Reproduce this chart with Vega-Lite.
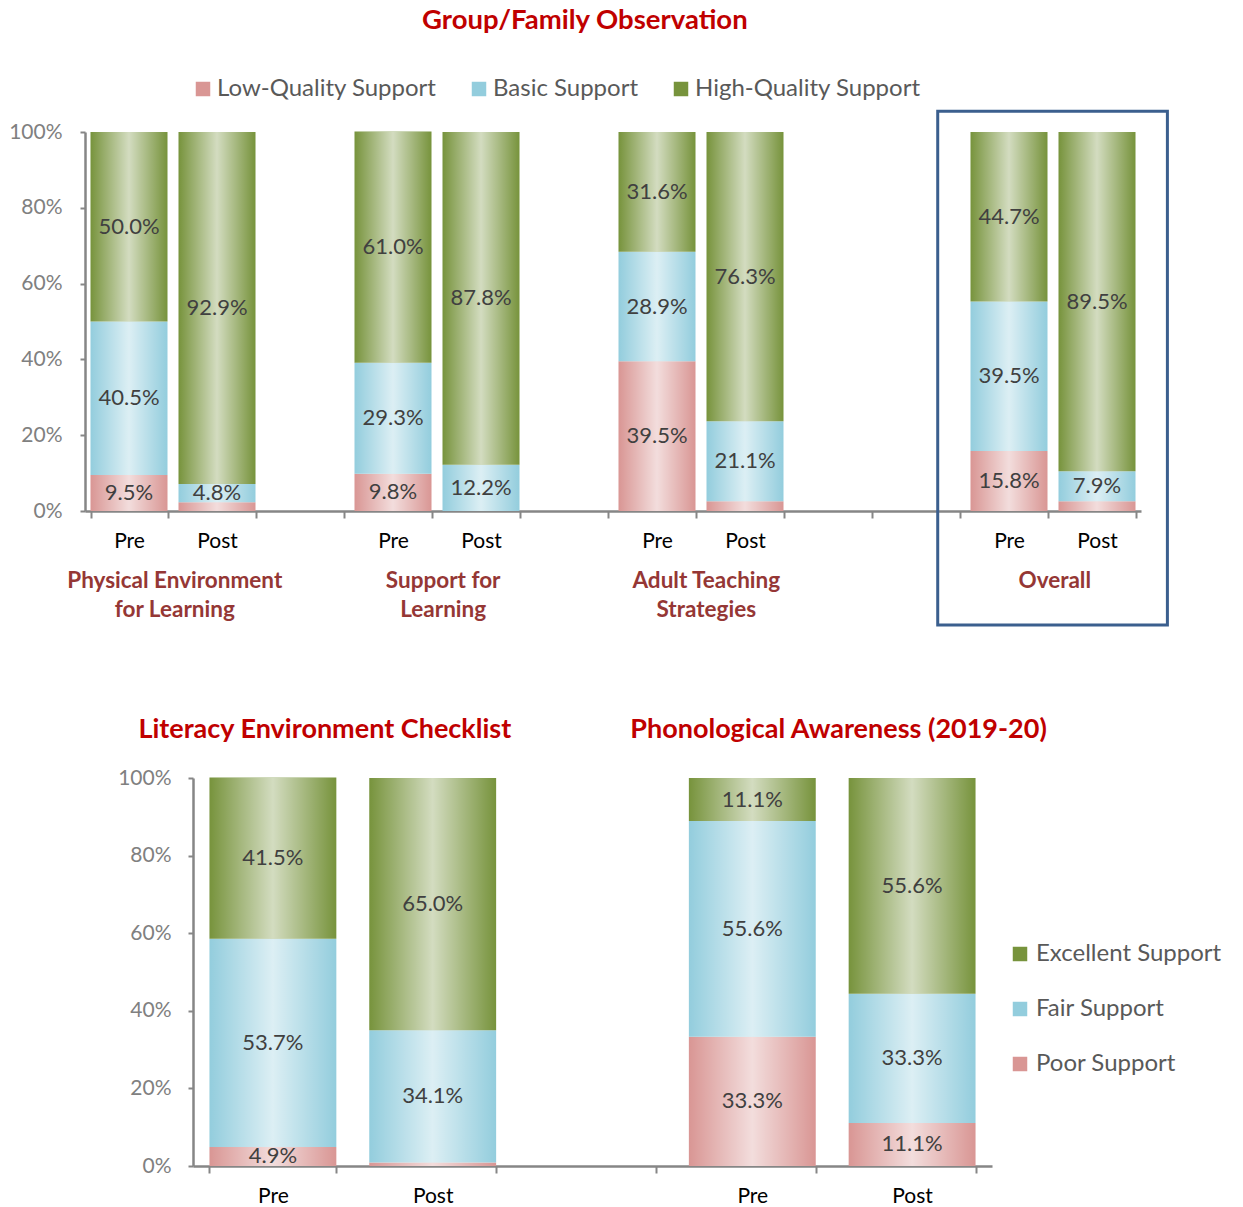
{
  "$schema": "https://vega.github.io/schema/vega-lite/v6.json",
  "background": "white",
  "padding": {"left": 8, "top": 6, "right": 0, "bottom": 0},
  "config": {"view": {"stroke": null}, "font": "Lato"},
  "datasets": {
    "obs": [
      {"slot": "PE Pre", "level": "Low-Quality Support", "rank": 1, "pct": 9.5},
      {"slot": "PE Pre", "level": "Basic Support", "rank": 2, "pct": 40.5},
      {"slot": "PE Pre", "level": "High-Quality Support", "rank": 3, "pct": 50.0},
      {"slot": "PE Post", "level": "Low-Quality Support", "rank": 1, "pct": 2.3},
      {"slot": "PE Post", "level": "Basic Support", "rank": 2, "pct": 4.8},
      {"slot": "PE Post", "level": "High-Quality Support", "rank": 3, "pct": 92.9},
      {"slot": "SL Pre", "level": "Low-Quality Support", "rank": 1, "pct": 9.8},
      {"slot": "SL Pre", "level": "Basic Support", "rank": 2, "pct": 29.3},
      {"slot": "SL Pre", "level": "High-Quality Support", "rank": 3, "pct": 61.0},
      {"slot": "SL Post", "level": "Basic Support", "rank": 2, "pct": 12.2},
      {"slot": "SL Post", "level": "High-Quality Support", "rank": 3, "pct": 87.8},
      {"slot": "AT Pre", "level": "Low-Quality Support", "rank": 1, "pct": 39.5},
      {"slot": "AT Pre", "level": "Basic Support", "rank": 2, "pct": 28.9},
      {"slot": "AT Pre", "level": "High-Quality Support", "rank": 3, "pct": 31.6},
      {"slot": "AT Post", "level": "Low-Quality Support", "rank": 1, "pct": 2.6},
      {"slot": "AT Post", "level": "Basic Support", "rank": 2, "pct": 21.1},
      {"slot": "AT Post", "level": "High-Quality Support", "rank": 3, "pct": 76.3},
      {"slot": "OV Pre", "level": "Low-Quality Support", "rank": 1, "pct": 15.8},
      {"slot": "OV Pre", "level": "Basic Support", "rank": 2, "pct": 39.5},
      {"slot": "OV Pre", "level": "High-Quality Support", "rank": 3, "pct": 44.7},
      {"slot": "OV Post", "level": "Low-Quality Support", "rank": 1, "pct": 2.6},
      {"slot": "OV Post", "level": "Basic Support", "rank": 2, "pct": 7.9},
      {"slot": "OV Post", "level": "High-Quality Support", "rank": 3, "pct": 89.5}
    ],
    "lit": [
      {"slot": "LEC Pre", "rating": "Poor Support", "rank": 1, "pct": 4.9},
      {"slot": "LEC Pre", "rating": "Fair Support", "rank": 2, "pct": 53.7},
      {"slot": "LEC Pre", "rating": "Excellent Support", "rank": 3, "pct": 41.5},
      {"slot": "LEC Post", "rating": "Poor Support", "rank": 1, "pct": 0.9},
      {"slot": "LEC Post", "rating": "Fair Support", "rank": 2, "pct": 34.1},
      {"slot": "LEC Post", "rating": "Excellent Support", "rank": 3, "pct": 65.0},
      {"slot": "PA Pre", "rating": "Poor Support", "rank": 1, "pct": 33.3},
      {"slot": "PA Pre", "rating": "Fair Support", "rank": 2, "pct": 55.6},
      {"slot": "PA Pre", "rating": "Excellent Support", "rank": 3, "pct": 11.1},
      {"slot": "PA Post", "rating": "Poor Support", "rank": 1, "pct": 11.1},
      {"slot": "PA Post", "rating": "Fair Support", "rank": 2, "pct": 33.3},
      {"slot": "PA Post", "rating": "Excellent Support", "rank": 3, "pct": 55.6}
    ]
  },
  "spacing": 89,
  "resolve": {"scale": {"x": "independent", "y": "independent", "color": "independent"}, "legend": {"color": "independent"}},
  "vconcat": [
    {
      "width": 1056,
      "height": 379,
      "resolve": {"scale": {"x": "independent", "y": "independent"}},
      "layer": [
        {
          "data": {"name": "obs"},
          "transform": [
            {"stack": "pct", "groupby": ["slot"], "sort": [{"field": "rank", "order": "ascending"}], "as": ["y0", "y1"]},
            {"calculate": "(datum.y0 + datum.y1) / 2", "as": "ymid"},
            {"calculate": "format(datum.pct, '.1f') + '%'", "as": "label"}
          ],
          "layer": [
            {
              "mark": {"type": "bar", "strokeWidth": 0},
              "encoding": {
                "x": {"field": "slot", "type": "nominal", "sort": null, "title": null,
                  "scale": {"domain": ["PE Pre", "PE Post", "g1", "SL Pre", "SL Post", "g2", "AT Pre", "AT Post", "g3", "g4", "OV Pre", "OV Post"], "paddingInner": 0.125, "paddingOuter": 0.0625},
                  "axis": {"title": null, "labelAngle": 0, "labelExpr": "split(datum.value, ' ')[1] || ''", "tickBand": "extent", "domainColor": "#868686", "domainWidth": 2.5, "tickColor": "#868686", "tickWidth": 2, "tickSize": 7, "labelColor": "#000000", "labelFont": "Lato", "labelFontSize": 21, "labelPadding": 12}},
                "y": {"field": "y0", "type": "quantitative", "title": null, "scale": {"domain": [0, 100], "nice": false},
                  "axis": {"title": null, "values": [0, 20, 40, 60, 80, 100], "labelExpr": "datum.value + '%'", "grid": false, "domainColor": "#868686", "domainWidth": 2.5, "tickColor": "#868686", "tickWidth": 2, "tickSize": 5, "labelColor": "#808080", "labelFont": "Lato", "labelFontSize": 21, "labelPadding": 18}},
                "y2": {"field": "y1"},
                "color": {"field": "level", "type": "nominal",
                  "scale": {"domain": ["Low-Quality Support", "Basic Support", "High-Quality Support"], "range": ["#d99694", "#93cddd", "#77933c"]},
                  "legend": {"orient": "none", "legendX": 106, "legendY": -55, "direction": "horizontal", "title": null, "labelFont": "Lato", "labelFontSize": 24, "labelColor": "#595959", "symbolType": "square", "symbolSize": 210, "symbolStrokeWidth": 0, "columnPadding": 30, "labelOffset": 2, "labelLimit": 400}}
              }
            },
            {
              "mark": {"type": "bar", "strokeWidth": 0, "fill": {"gradient": "linear", "x1": 0, "x2": 1, "y1": 0, "y2": 0, "stops": [{"offset": 0, "color": "rgba(255,255,255,0)"}, {"offset": 0.5, "color": "rgba(255,255,255,0.68)"}, {"offset": 1, "color": "rgba(255,255,255,0)"}]}},
              "encoding": {
                "x": {"field": "slot", "type": "nominal", "sort": null, "title": null},
                "y": {"field": "y0", "type": "quantitative", "title": null},
                "y2": {"field": "y1"}
              }
            },
            {
              "transform": [{"filter": "datum.pct >= 4"}],
              "mark": {"type": "text", "font": "Lato", "fontSize": 22, "color": "#404040", "baseline": "middle", "align": "center"},
              "encoding": {
                "x": {"field": "slot", "type": "nominal", "sort": null, "title": null},
                "y": {"field": "ymid", "type": "quantitative", "title": null},
                "text": {"field": "label"}
              }
            }
          ]
        },
        {
          "data": {"values": [{}]},
          "layer": [
            {
              "mark": {"type": "text", "font": "Lato", "fontWeight": "bold", "fontSize": 27.5, "color": "#c00000", "align": "center", "baseline": "alphabetic"},
              "encoding": {
                "x": {"datum": 5.68, "type": "quantitative", "scale": {"domain": [0, 12], "nice": false, "zero": false}, "axis": null},
                "y": {"datum": 127.2, "type": "quantitative", "scale": {"domain": [0, 100], "nice": false}, "axis": null},
                "text": {"value": "Group/Family Observation"}
              }
            },
            {
              "mark": {"type": "text", "font": "Lato", "fontWeight": "bold", "fontSize": 22.5, "color": "#953735", "align": "center", "baseline": "alphabetic", "lineBreak": "\n", "lineHeight": 29},
              "encoding": {
                "x": {"datum": 1.02, "type": "quantitative"},
                "y": {"datum": -20.3, "type": "quantitative"},
                "text": {"value": "Physical Environment\nfor Learning"}
              }
            },
            {
              "mark": {"type": "text", "font": "Lato", "fontWeight": "bold", "fontSize": 22.5, "color": "#953735", "align": "center", "baseline": "alphabetic", "lineBreak": "\n", "lineHeight": 29},
              "encoding": {
                "x": {"datum": 4.07, "type": "quantitative"},
                "y": {"datum": -20.3, "type": "quantitative"},
                "text": {"value": "Support for\nLearning"}
              }
            },
            {
              "mark": {"type": "text", "font": "Lato", "fontWeight": "bold", "fontSize": 22.5, "color": "#953735", "align": "center", "baseline": "alphabetic", "lineBreak": "\n", "lineHeight": 29},
              "encoding": {
                "x": {"datum": 7.06, "type": "quantitative"},
                "y": {"datum": -20.3, "type": "quantitative"},
                "text": {"value": "Adult Teaching\nStrategies"}
              }
            },
            {
              "mark": {"type": "text", "font": "Lato", "fontWeight": "bold", "fontSize": 22.5, "color": "#953735", "align": "center", "baseline": "alphabetic"},
              "encoding": {
                "x": {"datum": 11.02, "type": "quantitative"},
                "y": {"datum": -20.3, "type": "quantitative"},
                "text": {"value": "Overall"}
              }
            },
            {
              "mark": {"type": "rect", "filled": false, "stroke": "#3b5f8e", "strokeWidth": 3},
              "encoding": {
                "x": {"datum": 9.69, "type": "quantitative"},
                "x2": {"datum": 12.3},
                "y": {"datum": 105.5, "type": "quantitative"},
                "y2": {"datum": -30.1}
              }
            }
          ]
        }
      ]
    },
    {
      "spacing": 0,
      "hconcat": [
        {
          "width": 32,
          "height": 10,
          "data": {"values": []},
          "mark": {"type": "text"},
          "encoding": {}
        },
        {
          "width": 799,
          "height": 388,
          "resolve": {"scale": {"x": "independent", "y": "independent"}},
          "layer": [
            {
              "data": {"name": "lit"},
              "transform": [
                {"stack": "pct", "groupby": ["slot"], "sort": [{"field": "rank", "order": "ascending"}], "as": ["y0", "y1"]},
                {"calculate": "(datum.y0 + datum.y1) / 2", "as": "ymid"},
                {"calculate": "format(datum.pct, '.1f') + '%'", "as": "label"}
              ],
              "layer": [
                {
                  "mark": {"type": "bar", "strokeWidth": 0},
                  "encoding": {
                    "x": {"field": "slot", "type": "nominal", "sort": null, "title": null,
                      "scale": {"domain": ["LEC Pre", "LEC Post", "gap", "PA Pre", "PA Post"], "paddingInner": 0.206, "paddingOuter": 0.103},
                      "axis": {"title": null, "labelAngle": 0, "labelExpr": "split(datum.value, ' ')[1] || ''", "tickBand": "extent", "domainColor": "#868686", "domainWidth": 2.5, "tickColor": "#868686", "tickWidth": 2, "tickSize": 7, "labelColor": "#000000", "labelFont": "Lato", "labelFontSize": 21, "labelPadding": 12}},
                    "y": {"field": "y0", "type": "quantitative", "title": null, "scale": {"domain": [0, 100], "nice": false},
                      "axis": {"title": null, "values": [0, 20, 40, 60, 80, 100], "labelExpr": "datum.value + '%'", "grid": false, "domainColor": "#868686", "domainWidth": 2.5, "tickColor": "#868686", "tickWidth": 2, "tickSize": 5, "labelColor": "#808080", "labelFont": "Lato", "labelFontSize": 21, "labelPadding": 17}},
                    "y2": {"field": "y1"},
                    "color": {"field": "rating", "type": "nominal",
                      "scale": {"domain": ["Excellent Support", "Fair Support", "Poor Support"], "range": ["#77933c", "#93cddd", "#d99694"]},
                      "legend": {"orient": "none", "legendX": 923, "legendY": 164, "direction": "vertical", "title": null, "labelFont": "Lato", "labelFontSize": 24, "labelColor": "#595959", "symbolType": "square", "symbolSize": 210, "symbolStrokeWidth": 0, "rowPadding": 31, "labelOffset": 4, "labelLimit": 400}}
                  }
                },
                {
                  "mark": {"type": "bar", "strokeWidth": 0, "fill": {"gradient": "linear", "x1": 0, "x2": 1, "y1": 0, "y2": 0, "stops": [{"offset": 0, "color": "rgba(255,255,255,0)"}, {"offset": 0.5, "color": "rgba(255,255,255,0.68)"}, {"offset": 1, "color": "rgba(255,255,255,0)"}]}},
                  "encoding": {
                    "x": {"field": "slot", "type": "nominal", "sort": null, "title": null},
                    "y": {"field": "y0", "type": "quantitative", "title": null},
                    "y2": {"field": "y1"}
                  }
                },
                {
                  "transform": [{"filter": "datum.pct >= 4"}],
                  "mark": {"type": "text", "font": "Lato", "fontSize": 22, "color": "#404040", "baseline": "middle", "align": "center"},
                  "encoding": {
                    "x": {"field": "slot", "type": "nominal", "sort": null, "title": null},
                    "y": {"field": "ymid", "type": "quantitative", "title": null},
                    "text": {"field": "label"}
                  }
                }
              ]
            },
            {
              "data": {"values": [{}]},
              "layer": [
                {
                  "mark": {"type": "text", "font": "Lato", "fontWeight": "bold", "fontSize": 27, "color": "#c00000", "align": "center", "baseline": "alphabetic"},
                  "encoding": {
                    "x": {"datum": 0.825, "type": "quantitative", "scale": {"domain": [0, 5], "nice": false, "zero": false}, "axis": null},
                    "y": {"datum": 110.3, "type": "quantitative", "scale": {"domain": [0, 100], "nice": false}, "axis": null},
                    "text": {"value": "Literacy Environment Checklist"}
                  }
                },
                {
                  "mark": {"type": "text", "font": "Lato", "fontWeight": "bold", "fontSize": 27, "color": "#c00000", "align": "center", "baseline": "alphabetic"},
                  "encoding": {
                    "x": {"datum": 4.04, "type": "quantitative"},
                    "y": {"datum": 110.3, "type": "quantitative"},
                    "text": {"value": "Phonological Awareness (2019-20)"}
                  }
                }
              ]
            }
          ]
        }
      ]
    }
  ]
}
